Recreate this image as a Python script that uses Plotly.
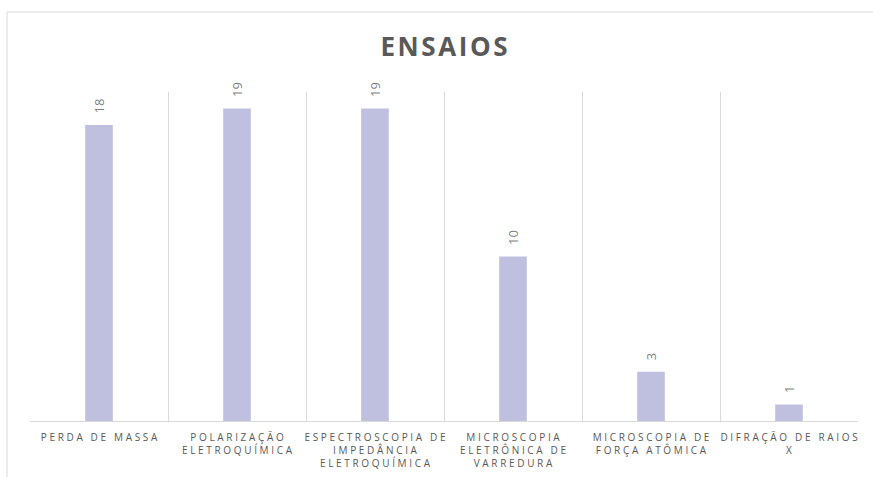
import plotly.graph_objects as go

categories = ["Perda de massa", "Polarização eletroquímica",
              "Espectroscopia de impedância eletroquímica",
              "Microscopia eletrônica de varredura",
              "Microscopia de força atômica", "Difração de raios X"]
values = [18, 19, 19, 10, 3, 1]
tick_labels = ["PERDA DE MASSA", "POLARIZAÇÃO<br>ELETROQUÍMICA",
               "ESPECTROSCOPIA DE<br>IMPEDÂNCIA<br>ELETROQUÍMICA",
               "MICROSCOPIA<br>ELETRÔNICA DE<br>VARREDURA",
               "MICROSCOPIA DE<br>FORÇA ATÔMICA", "DIFRAÇÃO DE RAIOS<br>X"]
title_text = "ENSAIOS"


def spaced(s, sep="\u2009\u200a"):
    lines = s.split("<br>")
    out = []
    for ln in lines:
        words = ln.split(" ")
        out.append((sep + " " + sep).join(sep.join(w) for w in words))
    return "<br>".join(out)


fig = go.Figure()
fig.add_trace(go.Bar(x=categories, y=values, width=0.2,
                     marker=dict(color="#bfbfdf", line=dict(width=0)),
                     hoverinfo="x+y"))

for c, v in zip(categories, values):
    fig.add_annotation(x=c, y=v, text=str(v), showarrow=False, textangle=-90,
                       yanchor="bottom", xanchor="center", yshift=9,
                       font=dict(family="Open Sans", size=13, color="#7f7f7f"))

L, R, T, B = 30, 15, 92, 56
W, H = 873, 477
pw, ph = W - L - R, H - T - B
fig.add_shape(type="rect", xref="paper", yref="paper",
              x0=(7 - L) / pw, x1=(890 - L) / pw,
              y0=(H - B - 490) / ph, y1=(H - B - 12) / ph,
              line=dict(color="#d9d9d9", width=1), fillcolor="rgba(0,0,0,0)",
              layer="below")

fig.update_layout(
    width=W, height=H,
    margin=dict(l=L, r=R, t=T, b=B),
    paper_bgcolor="white", plot_bgcolor="white",
    showlegend=False,
    title=dict(text="<b>" + "\u200a".join(title_text) + "</b>", x=0.5, xref="paper",
               y=1 - 47 / H, yanchor="middle", xanchor="center",
               font=dict(family="Open Sans", size=26, color="#595959")),
    xaxis=dict(tickmode="array", tickvals=categories,
               ticktext=[spaced(t) for t in tick_labels],
               tickson="boundaries", showgrid=True, gridcolor="#d9d9d9",
               gridwidth=1, ticks="", showline=True, linecolor="#d9d9d9",
               tickangle=0, ticklabelstandoff=7, automargin=False,
               tickfont=dict(family="Open Sans", size=10, color="#595959"),
               range=[-0.5, 5.5]),
    yaxis=dict(range=[0, 20], showgrid=False, showticklabels=False,
               zeroline=False, showline=False, ticks="", automargin=False),
)

fig.write_html("out.html")
